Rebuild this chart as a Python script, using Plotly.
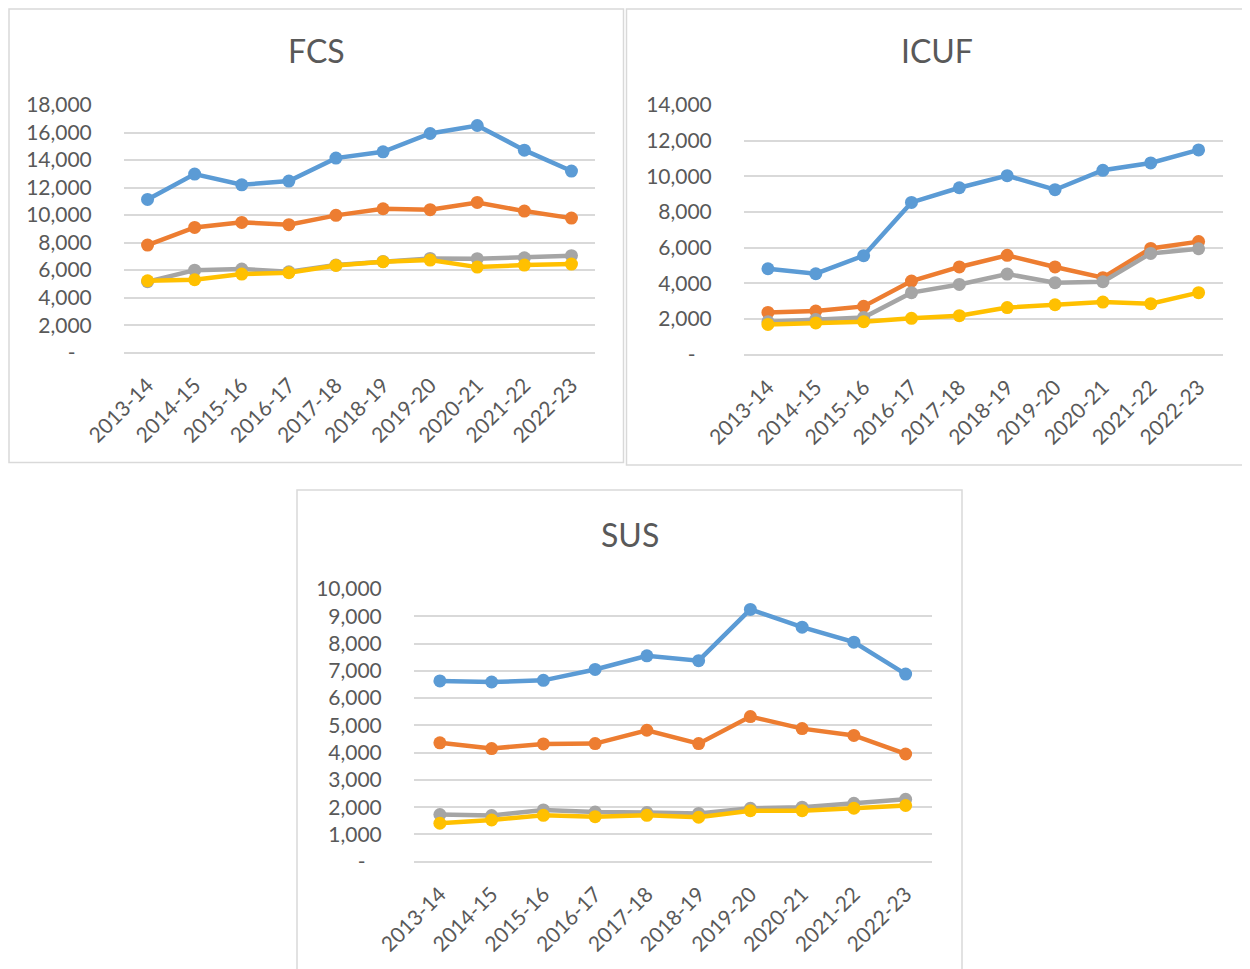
import plotly.graph_objects as go

years = ["2013-14", "2014-15", "2015-16", "2016-17", "2017-18",
         "2018-19", "2019-20", "2020-21", "2021-22", "2022-23"]

series_names = ["Series 1", "Series 2", "Series 3", "Series 4"]
series_colors = ["#5B9BD5", "#ED7D31", "#A5A5A5", "#FFC000"]

# FCS
fcs_s1 = [11140, 12980, 12200, 12470, 14140, 14600, 15930, 16510, 14720, 13200]
fcs_s2 = [7820, 9100, 9470, 9300, 9980, 10460, 10390, 10920, 10290, 9780]
fcs_s3 = [5160, 6000, 6080, 5880, 6370, 6630, 6850, 6830, 6900, 7050]
fcs_s4 = [5230, 5300, 5710, 5810, 6340, 6610, 6730, 6220, 6370, 6440]

# ICUF
icuf_s1 = [4820, 4540, 5550, 8540, 9360, 10040, 9250, 10340, 10750, 11480]
icuf_s2 = [2370, 2450, 2710, 4130, 4920, 5570, 4920, 4320, 5960, 6340]
icuf_s3 = [1850, 1980, 2090, 3480, 3940, 4520, 4040, 4090, 5680, 5940]
icuf_s4 = [1700, 1780, 1850, 2040, 2190, 2640, 2800, 2950, 2860, 3480]

# SUS
sus_s1 = [6630, 6590, 6650, 7050, 7550, 7370, 9250, 8600, 8050, 6880]
sus_s2 = [4360, 4150, 4320, 4330, 4820, 4330, 5320, 4880, 4630, 3950]
sus_s3 = [1730, 1690, 1900, 1820, 1800, 1770, 1960, 2000, 2140, 2290]
sus_s4 = [1410, 1530, 1700, 1650, 1700, 1630, 1870, 1870, 1960, 2060]

fcs_ticks = [0, 2000, 4000, 6000, 8000, 10000, 12000, 14000, 16000, 18000]
icuf_ticks = [0, 2000, 4000, 6000, 8000, 10000, 12000, 14000]
sus_ticks = [0, 1000, 2000, 3000, 4000, 5000, 6000, 7000, 8000, 9000, 10000]

W, H = 1250, 969
OFF = 8  # page body margin added by the browser
FONT = "Lato, 'Open Sans', sans-serif"
TXT = "#595959"
GRID = "#D9D9D9"


def px(x):
    return (x - OFF) / W


def py(y):
    return 1 - (y - OFF) / H


def fmt(v):
    return "-\u00a0\u00a0\u00a0" if v == 0 else f"{v:,}"


charts = [
    ("FCS", [fcs_s1, fcs_s2, fcs_s3, fcs_s4], fcs_ticks,
     (124, 595), (105, 352.7), (9, 9, 623.5, 462.5)),
    ("ICUF", [icuf_s1, icuf_s2, icuf_s3, icuf_s4], icuf_ticks,
     (744, 1222.5), (105, 354.7), (626.5, 9, 1247, 465)),
    ("SUS", [sus_s1, sus_s2, sus_s3, sus_s4], sus_ticks,
     (414, 931.5), (589, 861.7), (297, 490, 962, 985)),
]

fig = go.Figure()
shapes = []
annotations = []
layout = {}

for i, (title, data, ticks, (x0, x1), (ytop, ybot), box) in enumerate(charts):
    n = "" if i == 0 else str(i + 1)
    xa, ya = "x" + n, "y" + n
    bx0, by0, bx1, by1 = box
    shapes.append(dict(type="rect", xref="paper", yref="paper",
                       x0=px(bx0), x1=px(bx1), y0=py(by1), y1=py(by0),
                       line=dict(color=GRID, width=1.5), fillcolor="white",
                       layer="below"))
    annotations.append(dict(text=title, xref="paper", yref="paper",
                            x=px((bx0 + bx1) / 2), y=py(50),
                            xanchor="center", yanchor="middle", showarrow=False,
                            font=dict(family=FONT, size=32, color=TXT))
                       if i < 2 else
                       dict(text=title, xref="paper", yref="paper",
                            x=px((bx0 + bx1) / 2), y=py(by0 + 44),
                            xanchor="center", yanchor="middle", showarrow=False,
                            font=dict(family=FONT, size=32, color=TXT)))
    for s, (name, color) in enumerate(zip(series_names, series_colors)):
        fig.add_trace(go.Scatter(
            x=years, y=data[s], name=name, mode="lines+markers",
            line=dict(color=color, width=4.5),
            marker=dict(color=color, size=13),
            xaxis=xa, yaxis=ya, showlegend=False, cliponaxis=False))
    layout["xaxis" + n] = dict(
        domain=[px(x0), px(x1)], anchor=ya, type="category",
        range=[-0.5, 9.5], showgrid=False, zeroline=False, showline=False,
        tickangle=-45, ticks="outside", ticklen=11, tickcolor="rgba(0,0,0,0)",
        tickfont=dict(family=FONT, size=21, color=TXT), fixedrange=True,
        automargin=False)
    layout["yaxis" + n] = dict(
        domain=[py(ybot), py(ytop)], anchor=xa, range=[0, ticks[-1]],
        tickvals=ticks, ticktext=[fmt(t) for t in ticks],
        showgrid=True, gridcolor=GRID, gridwidth=1.5,
        zeroline=True, zerolinecolor=GRID, zerolinewidth=1.5, showline=False,
        ticks="outside", ticklen=27, tickcolor="rgba(0,0,0,0)",
        tickfont=dict(family=FONT, size=21, color=TXT), fixedrange=True,
        automargin=False)

fig.update_layout(
    width=W, height=H,
    margin=dict(l=0, r=0, t=0, b=0, pad=0, autoexpand=False),
    paper_bgcolor="white", plot_bgcolor="rgba(0,0,0,0)",
    shapes=shapes, annotations=annotations, **layout)

fig.write_html("out.html")
